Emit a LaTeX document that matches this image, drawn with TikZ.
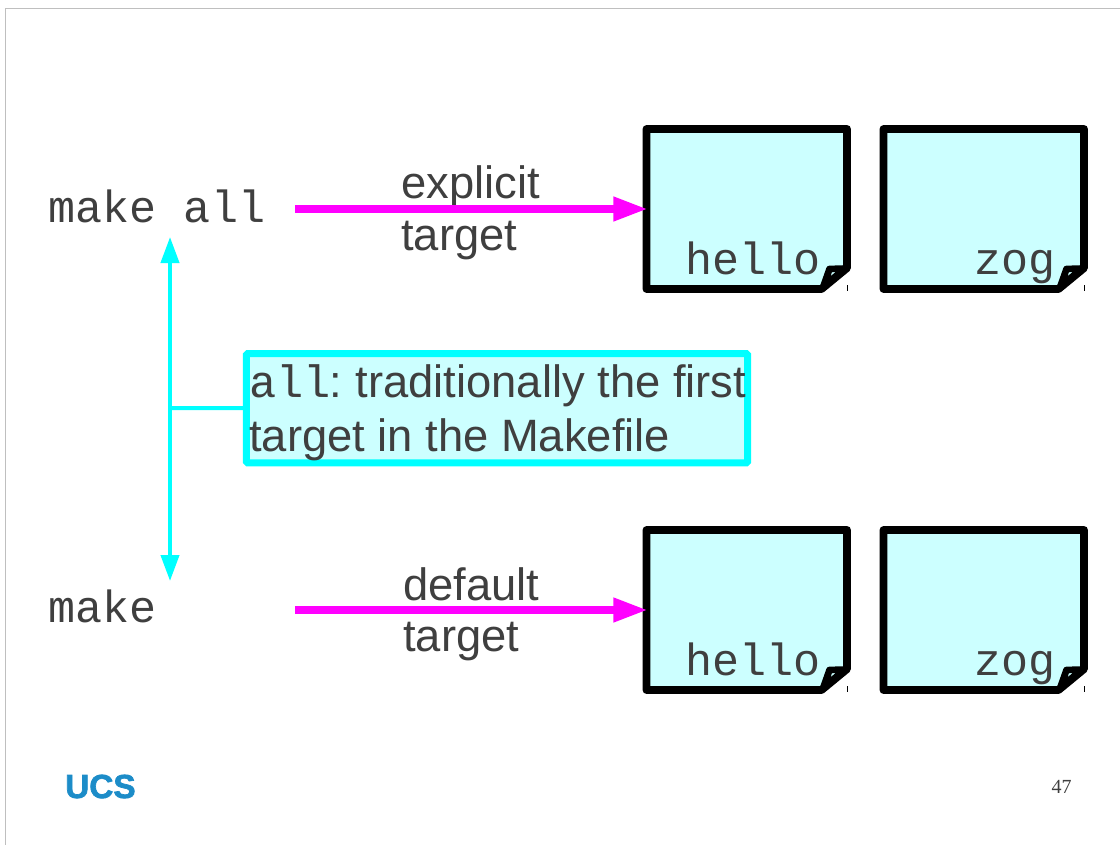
\documentclass[tikz,border=0pt]{standalone}
\usepackage{fontspec}
\setmainfont{Liberation Sans}
\setmonofont{Liberation Mono}
\newfontfamily\pagefont{Liberation Serif}
\newfontfamily\logofont[FakeBold=2]{Liberation Sans Bold}
\usetikzlibrary{arrows.meta}
\definecolor{sheetfill}{HTML}{CCFFFF}
\definecolor{inktext}{HTML}{3F3F3F}
\definecolor{ucsblue}{HTML}{1C8CC8}
\definecolor{pinkline}{HTML}{FF00FF}
\definecolor{aqualine}{HTML}{00FFFF}
\tikzset{
  slidetext/.style={anchor=base west,inner sep=0pt,text=inktext,font=\fontsize{34pt}{40pt}\selectfont},
  slidecode/.style={slidetext,font=\fontsize{33.8pt}{40pt}\selectfont\ttfamily},
  sheet/.style={draw=black,fill=sheetfill,line width=5.9pt,line join=round},
  magentaarrow/.style={-{Triangle[length=26pt,width=17pt]},pinkline,line width=6pt},
  cyanarrow/.style={{Triangle[length=19.5pt,width=13.5pt]}-{Triangle[length=19.5pt,width=13.5pt]},aqualine,line width=3pt},
}
\newcommand{\filesheet}[5]{%
  \draw[sheet] (#1,#2)--(#1+200.5,#2)--(#1+200.5,#2+139)--(#1+175,#2+160)--(#1,#2+160)--cycle;
  \draw[sheet,line width=5pt] (#1+177,#2+157)--(#1+183,#2+140)--(#1+199,#2+139.5)--cycle;
  \draw[black,line width=0.9pt] (#1+201,#2+156)--(#1+201,#2+162);
  \node[slidecode] (#3) at (#1+#5,#2+145) {#4};
}
\begin{document}
\begin{tikzpicture}
\pgfsetxvec{\pgfpoint{0.75pt}{0}}
\pgfsetyvec{\pgfpoint{0}{-0.75pt}}
  \useasboundingbox (0,0) rectangle (1120,845);
  % slide edge
  \draw[black!25,line width=0.9pt] (5.5,845)--(5.5,8.5)--(1120,8.5);
  % top row
  \node[slidecode] (makeall) at (48.5,222) {make all};
  \node[slidetext] (explicit) at (401,199) {explicit};
  \node[slidetext] (targeta) at (401,250) {target};
  \filesheet{646.5}{129}{helloa}{hello}{39}
  \filesheet{883.5}{129}{zoga}{zog}{91}
  % bottom row
  \node[slidecode] (make) at (48.5,622) {make};
  \node[slidetext] (default) at (403,600) {default};
  \node[slidetext] (targetb) at (403,651) {target};
  \filesheet{646.5}{530}{hellob}{hello}{39}
  \filesheet{883.5}{530}{zogb}{zog}{91}
  % arrows
  \coordinate (fromall) at (295,209);
  \coordinate (toall) at (648,209);
  \coordinate (frommake) at (295,610);
  \coordinate (tomake) at (648,610);
  \draw[magentaarrow] (fromall)--(toall);
  \draw[magentaarrow] (frommake)--(tomake);
  \coordinate (upper) at (170,237);
  \coordinate (lower) at (170,581);
  \coordinate (joint) at (170,408);
  \draw[cyanarrow] (lower)--(upper);
  % note
  \node[draw=aqualine,fill=sheetfill,line width=5.2pt,rounded corners=1pt,minimum width=376pt,minimum height=82pt,inner sep=0pt] (note) at (497,408.2) {};
  \draw[aqualine,line width=3pt] (joint)--(note.west);
  \node[slidetext] (notea) at (249,397) {{\ttfamily all}\kern-1pt:\kern-2.5pt{} traditionally the first};
  \node[slidetext] (noteb) at (249,451) {target in the Makefile};
  % footer
  \node[anchor=base west,inner sep=0pt,text=ucsblue,font=\fontsize{25pt}{30pt}\selectfont\logofont] (logo) at (65,798) {UCS};
  \node[anchor=base east,inner sep=0pt,text=inktext,font=\fontsize{15pt}{18pt}\selectfont\pagefont] (pagenum) at (1072,793) {47};
\end{tikzpicture}
\end{document}
